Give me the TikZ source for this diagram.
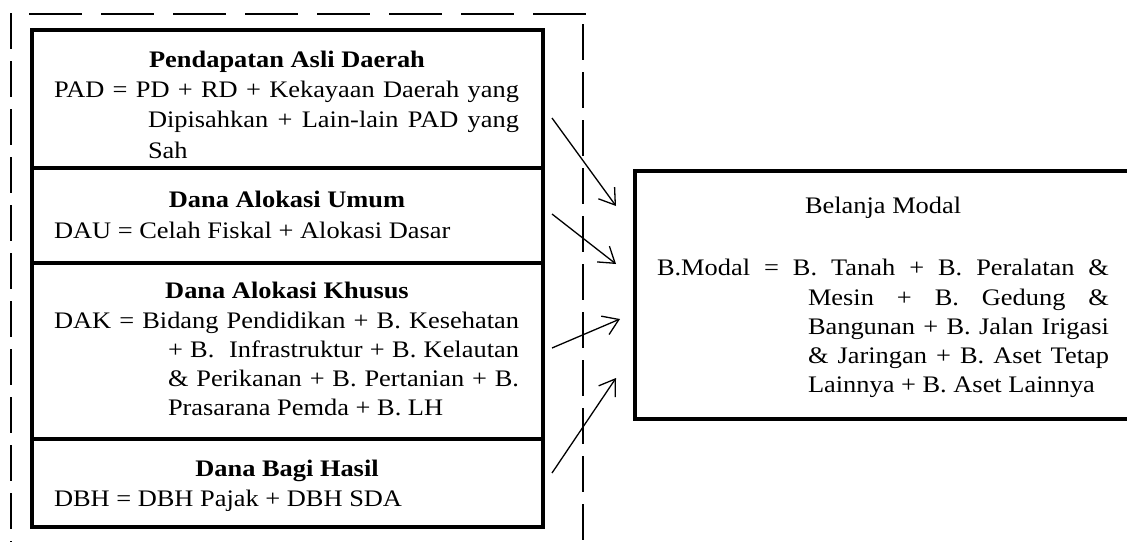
\documentclass[tikz,border=0pt]{standalone}
\usepackage{fontspec}
\setmainfont{Liberation Serif}[FakeStretch=1.114]
\usetikzlibrary{arrows.meta}
\begin{document}
\begin{tikzpicture}[x=1pt,y=-1pt,
  txt/.style={font=\fontsize{23.7}{29}\selectfont, inner sep=0pt, outer sep=0pt, anchor=base west},
  ttl/.style={font=\fontsize{23.7}{29}\selectfont\bfseries, inner sep=0pt, outer sep=0pt, anchor=base},
  boxst/.style={draw, line width=4pt, anchor=north west, inner sep=0pt, outer sep=0pt},
  dshv/.style={line width=1.3pt, dash pattern=on 36pt off 12pt},
  dshh/.style={line width=1.3pt, dash pattern=on 53pt off 19pt},
  arr/.style={line width=1.3pt, -{Straight Barb[length=15pt,width=20pt]}}]
\useasboundingbox (0,0) rectangle (1127,541);
\clip (0,0) rectangle (1127,541);
% dashed frame
\coordinate (fl1) at (11,13);
\coordinate (fl2) at (11,545);
\coordinate (ft1) at (29,14);
\coordinate (ft2) at (586,14);
\coordinate (fr1) at (583,24);
\coordinate (fr2) at (583,545);
\draw[dshv] (fl1) -- (fl2);
\draw[dshh] (ft1) -- (ft2);
\draw[dshv] (fr1) -- (fr2);
% texts of left boxes
\node[ttl] (t1) at (287,67) {Pendapatan Asli Daerah};
\node[txt] (l11) at (54,97) {\makebox[465pt][s]{PAD = PD + RD + Kekayaan Daerah yang}};
\node[txt] (l12) at (148,127) {\makebox[371pt][s]{Dipisahkan + Lain-lain PAD yang}};
\node[txt] (l13) at (148,158) {Sah};
\node[ttl] (t2) at (287,207) {Dana Alokasi Umum};
\node[txt] (l21) at (54,238) {DAU = Celah Fiskal + Alokasi Dasar};
\node[ttl] (t3) at (287,298) {Dana Alokasi Khusus};
\node[txt] (l31) at (54,328) {\makebox[465pt][s]{DAK = Bidang Pendidikan + B. Kesehatan}};
\node[txt] (l32) at (168,357) {\makebox[351pt][s]{+ B.\ \ Infrastruktur + B. Kelautan}};
\node[txt] (l33) at (168,386) {\makebox[351pt][s]{\& Perikanan + B. Pertanian + B.}};
\node[txt] (l34) at (168,415) {Prasarana Pemda + B. LH};
\node[ttl] (t4) at (287,476) {Dana Bagi Hasil};
\node[txt] (l41) at (54,506) {DBH = DBH Pajak + DBH SDA};
% boxes
\node[boxst, minimum width=511pt, minimum height=138pt] (pad) at (32,30) {};
\node[boxst, minimum width=511pt, minimum height=95pt] (dau) at (32,168) {};
\node[boxst, minimum width=511pt, minimum height=176pt] (dak) at (32,263) {};
\node[boxst, minimum width=511pt, minimum height=88pt] (dbh) at (32,439) {};
\node[boxst, minimum width=530pt, minimum height=248pt] (bm) at (635,171) {};
% right box texts
\node[txt] (r0) at (805,213) {Belanja Modal};
\node[txt] (r1) at (657,275) {\makebox[452pt][s]{B.Modal = B. Tanah + B. Peralatan \&}};
\node[txt] (r2) at (808,305) {\makebox[301pt][s]{Mesin + B. Gedung \&}};
\node[txt] (r3) at (808,334) {\makebox[301pt][s]{Bangunan + B. Jalan Irigasi}};
\node[txt] (r4) at (808,363) {\makebox[301pt][s]{\& Jaringan + B. Aset Tetap}};
\node[txt] (r5) at (808,392) {Lainnya + B. Aset Lainnya};
% arrows
\coordinate (a1s) at (552,118);
\coordinate (a1e) at (616,206);
\coordinate (a2s) at (552,214);
\coordinate (a2e) at (616,264);
\coordinate (a3s) at (552,348);
\coordinate (a3e) at (620,319);
\coordinate (a4s) at (552,473);
\coordinate (a4e) at (616,378);
\draw[arr] (a1s) -- (a1e);
\draw[arr] (a2s) -- (a2e);
\draw[arr] (a3s) -- (a3e);
\draw[arr] (a4s) -- (a4e);
\end{tikzpicture}
\end{document}
